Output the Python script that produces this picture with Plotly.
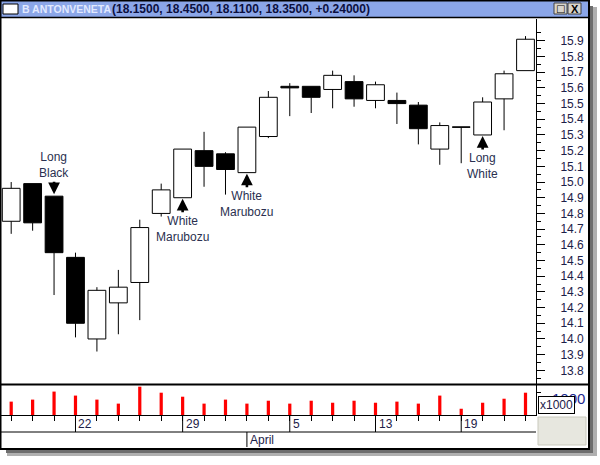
import plotly.graph_objects as go

# ---------------- data ----------------
dates = ["2004-03-17", "2004-03-18", "2004-03-19", "2004-03-22", "2004-03-23",
         "2004-03-24", "2004-03-25", "2004-03-26", "2004-03-29", "2004-03-30",
         "2004-03-31", "2004-04-01", "2004-04-02", "2004-04-05", "2004-04-06",
         "2004-04-07", "2004-04-08", "2004-04-13", "2004-04-14", "2004-04-15",
         "2004-04-16", "2004-04-19", "2004-04-20", "2004-04-21", "2004-04-22"]
opens  = [14.75, 14.99, 14.91, 14.52, 14.00, 14.23, 14.36, 14.80, 14.90, 15.20,
          15.18, 15.06, 15.29, 15.61, 15.61, 15.59, 15.64, 15.52, 15.52, 15.49,
          15.21, 15.35, 15.30, 15.53, 15.71]
highs  = [15.00, 14.99, 14.91, 14.55, 14.33, 14.44, 14.76, 14.99, 15.21, 15.32,
          15.19, 15.35, 15.58, 15.63, 15.61, 15.71, 15.68, 15.64, 15.57, 15.51,
          15.38, 15.35, 15.54, 15.71, 15.93]
lows   = [14.67, 14.69, 14.28, 14.01, 13.92, 14.03, 14.12, 14.78, 14.90, 14.97,
          14.92, 15.06, 15.28, 15.42, 15.44, 15.47, 15.48, 15.47, 15.37, 15.24,
          15.11, 15.12, 15.30, 15.33, 15.71]
closes = [14.96, 14.74, 14.55, 14.10, 14.31, 14.33, 14.71, 14.95, 15.21, 15.10,
          15.08, 15.35, 15.54, 15.60, 15.54, 15.68, 15.53, 15.62, 15.50, 15.34,
          15.36, 15.35, 15.51, 15.69, 15.91]
volumes = [600, 690, 1050, 870, 690, 510, 1270, 1000, 820, 510, 690, 510, 640,
           510, 640, 550, 640, 550, 600, 510, 870, 280, 550, 730, 1000]  # x1000

price_ticks = [13.8, 13.9, 14.0, 14.1, 14.2, 14.3, 14.4, 14.5, 14.6, 14.7, 14.8,
               14.9, 15.0, 15.1, 15.2, 15.3, 15.4, 15.5, 15.6, 15.7, 15.8, 15.9]
volume_ticks = [1000]
week_labels = {"2004-03-22": "22", "2004-03-29": "29", "2004-04-05": "5",
               "2004-04-13": "13", "2004-04-19": "19"}
month_labels = {"2004-04-01": "April"}
patterns = [("2004-03-19", "Long<br>Black", "down"),
            ("2004-03-29", "White<br>Marubozu", "up"),
            ("2004-04-01", "White<br>Marubozu", "up"),
            ("2004-04-20", "Long<br>White", "up")]
title_name = "B ANTONVENETA"
title_values = "(18.1500, 18.4500, 18.1100, 18.3500, +0.24000)"

# ---------------- helpers ----------------
W, H = 600, 465
def px(x): return x / W
def py(y): return 1 - y / H

FONT = "Liberation Sans, Arial, sans-serif"
TXT = "#1c2048"
xs = list(range(len(dates)))
BODY_W = 0.83

fig = go.Figure()

# candle bodies
body_base = [min(o, c) for o, c in zip(opens, closes)]
body_h = [abs(c - o) for o, c in zip(opens, closes)]
body_col = ["white" if c >= o else "black" for o, c in zip(opens, closes)]
fig.add_trace(go.Bar(x=xs, y=body_h, base=body_base, width=BODY_W,
                     marker=dict(color=body_col, line=dict(color="black", width=1)),
                     xaxis="x", yaxis="y", hoverinfo="skip"))

# wicks
wx, wy = [], []
for i, o, h, l, c in zip(xs, opens, highs, lows, closes):
    top, bot = max(o, c), min(o, c)
    if h > top:
        wx += [i, i, None]; wy += [top, h, None]
    if l < bot:
        wx += [i, i, None]; wy += [bot, l, None]
    if o == c:
        wx += [i - BODY_W / 2, i + BODY_W / 2, None]; wy += [c, c, None]
fig.add_trace(go.Scatter(x=wx, y=wy, mode="lines", line=dict(color="black", width=1),
                         xaxis="x", yaxis="y", hoverinfo="skip"))

# volume
fig.add_trace(go.Bar(x=xs, y=volumes, width=0.15, marker=dict(color="#ff0000", line=dict(width=0)),
                     xaxis="x2", yaxis="y2", hoverinfo="skip"))

XL, XR = 1, 536
xrange_ = [-0.476, 24.49]

fig.update_layout(
    width=W, height=H, margin=dict(l=0, r=0, t=0, b=0, autoexpand=False),
    paper_bgcolor="white", plot_bgcolor="white", showlegend=False,
    font=dict(family=FONT, size=12, color=TXT),
    xaxis=dict(domain=[px(XL), px(XR)], range=xrange_, anchor="y", automargin=False,
               showticklabels=False, showgrid=False, zeroline=False, ticks=""),
    yaxis=dict(domain=[py(384), py(19)], range=[13.713, 16.039], anchor="x", side="right",
               automargin=False,
               showline=True, linecolor="black", linewidth=1, showgrid=False, zeroline=False,
               tickmode="array", tickvals=price_ticks, ticktext=[f"{v:.1f}" for v in price_ticks],
               ticks="outside", ticklen=8, tickcolor="black", tickwidth=1,
               ticklabelstandoff=13,
               minor=dict(ticks="outside", ticklen=4, tickmode="linear", tick0=13.75, dtick=0.1,
                          tickcolor="black", showgrid=False),
               tickfont=dict(family=FONT, size=12, color=TXT)),
    xaxis2=dict(domain=[px(XL), px(XR)], range=xrange_, anchor="y2", automargin=False,
                showticklabels=False, showgrid=False, zeroline=False,
                showline=True, linecolor="black", linewidth=1,
                tickmode="array", tickvals=xs, ticks="outside", ticklen=5, tickcolor="black"),
    yaxis2=dict(domain=[py(415), py(385)], range=[0, 1345], anchor="x2", side="right",
                automargin=False,
                showline=True, linecolor="black", linewidth=1, showgrid=False, zeroline=False,
                tickmode="array", tickvals=volume_ticks, ticktext=[str(v) for v in volume_ticks],
                ticks="outside", ticklen=4, tickcolor="black", ticklabelstandoff=8,
                ticklabelshift=6,
                tickfont=dict(family=FONT, size=15, color="#1c2890")),
)

shapes = []
annotations = []

# date separators and labels
for d, lab in week_labels.items():
    i = dates.index(d)
    shapes.append(dict(type="line", xref="x2", yref="paper", x0=i, x1=i,
                       y0=py(415), y1=py(432), line=dict(color="black", width=1)))
    annotations.append(dict(xref="x2", yref="paper", x=i, y=py(424), text=lab, showarrow=False,
                            xanchor="left", yanchor="middle", xshift=1,
                            font=dict(family=FONT, size=12, color=TXT)))
for d, lab in month_labels.items():
    i = dates.index(d)
    shapes.append(dict(type="line", xref="x2", yref="paper", x0=i, x1=i,
                       y0=py(432), y1=py(447), line=dict(color="black", width=1)))
    annotations.append(dict(xref="x2", yref="paper", x=i, y=py(440), text=lab, showarrow=False,
                            xanchor="left", yanchor="middle", xshift=1,
                            font=dict(family=FONT, size=12, color=TXT)))

# pattern annotations
for d, lab, direction in patterns:
    i = dates.index(d)
    if direction == "up":
        yv, ay, st = min(opens[i], closes[i], lows[i]), 31, 1
    else:
        yv, ay, st = max(opens[i], closes[i], highs[i]), -31, 2
    annotations.append(dict(xref="x", yref="y", x=i, y=yv, text=lab, showarrow=True,
                            ax=0, ay=ay, arrowhead=2, arrowsize=0.9, arrowwidth=2.6,
                            arrowcolor="black", standoff=st,
                            font=dict(family=FONT, size=12, color="#2a3050")))

# panel separators
shapes.append(dict(type="line", xref="paper", yref="paper", x0=px(0), x1=px(589),
                   y0=py(384.5), y1=py(384.5), line=dict(color="black", width=2)))
shapes.append(dict(type="line", xref="paper", yref="paper", x0=px(0), x1=px(XR),
                   y0=py(432), y1=py(432), line=dict(color="black", width=1)))
# bottom-right grey box
shapes.append(dict(type="rect", xref="paper", yref="paper", x0=px(538), x1=px(586),
                   y0=py(445), y1=py(417), fillcolor="#e7e7df", line=dict(color="#c9c9bd", width=1)))

# title bar
shapes.append(dict(type="rect", xref="paper", yref="paper", x0=px(1), x1=px(588),
                   y0=py(17), y1=py(0), fillcolor="#8ba6e8", line=dict(width=0), layer="below"))
shapes.append(dict(type="line", xref="paper", yref="paper", x0=px(0), x1=px(589),
                   y0=py(17.5), y1=py(17.5), line=dict(color="black", width=1.5)))
shapes.append(dict(type="rect", xref="paper", yref="paper", x0=px(3), x1=px(18),
                   y0=py(14), y1=py(4), fillcolor="white", line=dict(color="black", width=1)))
for x0, x1 in [(554, 567), (568, 581)]:
    shapes.append(dict(type="rect", xref="paper", yref="paper", x0=px(x0), x1=px(x1),
                       y0=py(14), y1=py(3), fillcolor="#d8d4cc", line=dict(color="#404040", width=1)))
annotations.append(dict(xref="paper", yref="paper", x=px(560.5), y=py(8.5), text="□",
                        showarrow=False, xanchor="center", yanchor="middle",
                        font=dict(family="DejaVu Sans", size=10, color="black")))
annotations.append(dict(xref="paper", yref="paper", x=px(574.5), y=py(8.5), text="<b>X</b>",
                        showarrow=False, xanchor="center", yanchor="middle",
                        font=dict(family=FONT, size=11, color="black")))
annotations.append(dict(xref="paper", yref="paper", x=px(20), y=py(8.5), text=f"<b>{title_name}</b>",
                        showarrow=False, xanchor="left", yanchor="middle",
                        font=dict(family=FONT, size=10.5, color="#e2e9ff")))
annotations.append(dict(xref="paper", yref="paper", x=px(110), y=py(8.5), text=f"<b>{title_values}</b>",
                        showarrow=False, xanchor="left", yanchor="middle",
                        font=dict(family=FONT, size=12, color="#0c1040")))

# window border & shadow
shapes.append(dict(type="rect", xref="paper", yref="paper", x0=px(0.5), x1=px(589),
                   y0=py(449), y1=py(0.5), line=dict(color="black", width=2)))
shapes.append(dict(type="rect", xref="paper", yref="paper", x0=px(590), x1=px(593),
                   y0=py(455), y1=py(6), fillcolor="#6e6e6e", line=dict(width=0)))
shapes.append(dict(type="rect", xref="paper", yref="paper", x0=px(593), x1=px(597),
                   y0=py(456), y1=py(7), fillcolor="#b0b0b0", line=dict(width=0)))
shapes.append(dict(type="rect", xref="paper", yref="paper", x0=px(6), x1=px(593),
                   y0=py(453), y1=py(450), fillcolor="#6e6e6e", line=dict(width=0)))
shapes.append(dict(type="rect", xref="paper", yref="paper", x0=px(7), x1=px(597),
                   y0=py(456), y1=py(453), fillcolor="#b0b0b0", line=dict(width=0)))

# x1000 box
annotations.append(dict(xref="paper", yref="paper", x=px(538), y=py(414), text="x1000",
                        showarrow=False, xanchor="left", yanchor="bottom",
                        bgcolor="white", bordercolor="black", borderwidth=1,
                        borderpad=1, font=dict(family=FONT, size=12, color=TXT)))

fig.update_layout(shapes=shapes, annotations=annotations)
fig.write_html("out.html", config={"displayModeBar": False},
               post_script="document.body.style.margin='0';")
